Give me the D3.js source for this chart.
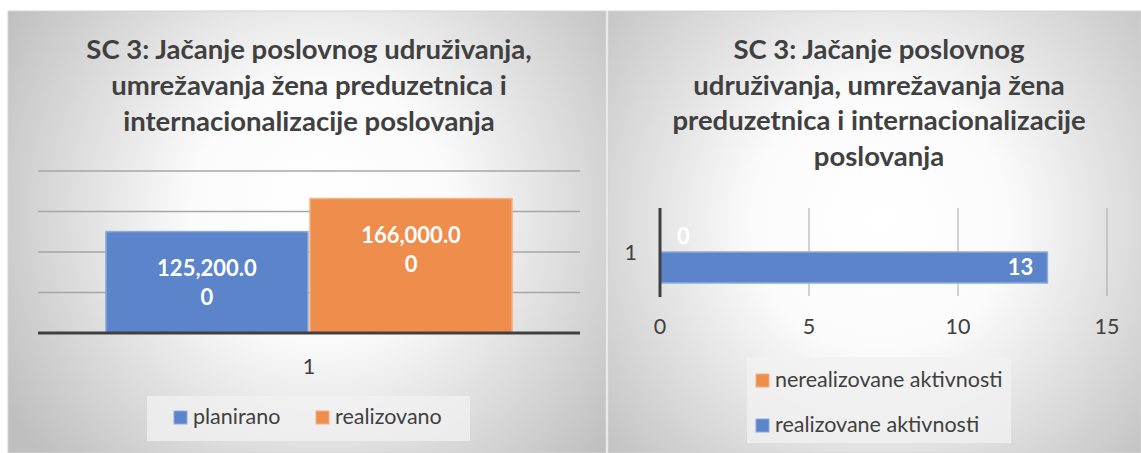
<!DOCTYPE html>
<html>
<head>
<meta charset="utf-8">
<script src="https://cdn.jsdelivr.net/npm/d3@7"></script>
<style>
  body { margin: 0; background: #fff; }
  svg text { font-family: Lato, "Open Sans", sans-serif; }
</style>
</head>
<body>
<svg id="chart" width="1141" height="453"></svg>
<script>
// left chart: column chart
const colTitle = ["SC 3: Jačanje poslovnog udruživanja,", "umrežavanja žena preduzetnica i", "internacionalizacije poslovanja"];
const colCategories = ["1"];
const colSeries = ["planirano", "realizovano"];
const colValues = [125200, 166000];
const colTicks = [0, 50000, 100000, 150000, 200000];

// right chart: horizontal bar chart
const barTitle = ["SC 3: Jačanje poslovnog", "udruživanja, umrežavanja žena", "preduzetnica i internacionalizacije", "poslovanja"];
const barCategories = ["1"];
const barSeries = ["nerealizovane aktivnosti", "realizovane aktivnosti"];
const barValues = [0, 13];
const barTicks = [0, 5, 10, 15];

const blue = "#5b84cb";
const orange = "#ef8d4c";
const colors = { "planirano": blue, "realizovano": orange,
                 "nerealizovane aktivnosti": orange, "realizovane aktivnosti": blue };
const strokes = { [blue]: "#8eaadb", [orange]: "#f4b183" };
const textColor = "#404040";

const svg = d3.select("#chart");
const defs = svg.append("defs");

function drawPanel(id, x0, x1, cx, cy) {
    const grad = defs.append("radialGradient")
        .attr("id", id)
        .attr("gradientUnits", "userSpaceOnUse")
        .attr("cx", cx).attr("cy", cy).attr("r", 370);
    grad.append("stop").attr("offset", "0%").attr("stop-color", "#ffffff");
    grad.append("stop").attr("offset", "35%").attr("stop-color", "#fbfbfb");
    grad.append("stop").attr("offset", "100%").attr("stop-color", "#bfbfbf");
    svg.append("rect")
        .attr("x", x0).attr("y", 11)
        .attr("width", x1 - x0).attr("height", 453 - 11)
        .attr("fill", `url(#${id})`)
        .attr("stroke", "#d4d4d4")
        .attr("stroke-width", 1);
}

function drawTitle(lines, cx, y0, step) {
    svg.append("g").selectAll("text")
        .data(lines)
        .enter()
        .append("text")
        .attr("x", cx)
        .attr("y", (d, i) => y0 + i * step)
        .attr("text-anchor", "middle")
        .style("font-size", "27.5px")
        .style("font-weight", "bold")
        .style("fill", textColor)
        .text(d => d);
}

function drawColumnChart() {
    drawPanel("bgLeft", 8, 606, 320, 210);
    drawTitle(colTitle, 309, 59, 36);

    const y = d3.scaleLinear().domain([0, 200000]).range([333, 171]);
    const x = d3.scaleBand().domain(colCategories).range([38, 580])
        .paddingInner(0).paddingOuter(0.164);
    const xs = d3.scaleBand().domain(colSeries).range([0, x.bandwidth()]);

    // gridlines
    svg.append("g").selectAll("line")
        .data(colTicks.slice(1))
        .enter()
        .append("line")
        .attr("x1", 38).attr("x2", 580)
        .attr("y1", d => y(d)).attr("y2", d => y(d))
        .style("stroke", "#a6a6a6")
        .style("stroke-width", 1.3);

    const g = svg.append("g");
    g.selectAll("rect")
        .data(colSeries.map((s, i) => ({ series: s, cat: colCategories[0], value: colValues[i] })))
        .enter()
        .append("rect")
        .attr("x", d => x(d.cat) + xs(d.series) + 1)
        .attr("width", xs.bandwidth() - 2)
        .attr("y", d => y(d.value))
        .attr("height", d => y(0) - y(d.value))
        .style("fill", d => colors[d.series])
        .style("stroke", d => strokes[colors[d.series]])
        .style("stroke-width", 1.5);

    // value labels, wrapped like the original ("125,200.0" / "0")
    const fmt = d3.format(",.2f");
    colSeries.forEach((s, i) => {
        const str = fmt(colValues[i]);
        const parts = [str.slice(0, -1), str.slice(-1)];
        svg.append("g").selectAll("text")
            .data(parts)
            .enter()
            .append("text")
            .attr("x", x(colCategories[0]) + xs(s) + xs.bandwidth() / 2)
            .attr("y", (d, j) => y(colValues[i]) + 44 + j * 29)
            .attr("text-anchor", "middle")
            .style("font-size", "22px")
            .style("font-weight", "bold")
            .style("fill", "#fff")
            .text(d => d);
    });

    // axis line
    svg.append("line")
        .attr("x1", 38).attr("x2", 580)
        .attr("y1", y(0)).attr("y2", y(0))
        .style("stroke", "#404040")
        .style("stroke-width", 3);

    svg.append("g").selectAll("text")
        .data(colCategories)
        .enter()
        .append("text")
        .attr("x", d => x(d) + x.bandwidth() / 2)
        .attr("y", 374)
        .attr("text-anchor", "middle")
        .style("font-size", "21.5px")
        .style("fill", textColor)
        .text(d => d);

    // legend
    svg.append("rect")
        .attr("x", 147).attr("y", 396)
        .attr("width", 323).attr("height", 45)
        .style("fill", "#f2f2f2")
        .style("fill-opacity", 0.75);
    const legendX = [174, 316];
    const items = svg.append("g").selectAll("g")
        .data(colSeries)
        .enter()
        .append("g")
        .attr("transform", (d, i) => `translate(${legendX[i]},411)`);
    items.append("rect")
        .attr("width", 13).attr("height", 13)
        .style("fill", d => colors[d])
        .style("stroke", d => strokes[colors[d]]);
    items.append("text")
        .attr("x", 19).attr("y", 13)
        .style("font-size", "21.5px")
        .style("fill", textColor)
        .text(d => d);
}

function drawBarChart() {
    drawPanel("bgRight", 608, 1141, 880, 220);
    drawTitle(barTitle, 879, 59, 35.5);

    const x = d3.scaleLinear().domain([0, 15]).range([660, 1107]);
    const y = d3.scaleBand().domain(barCategories).range([208, 296])
        .paddingInner(0).paddingOuter(0.21);
    const ys = d3.scaleBand().domain(barSeries).range([0, y.bandwidth()]);

    // vertical gridlines
    svg.append("g").selectAll("line")
        .data(barTicks.slice(1))
        .enter()
        .append("line")
        .attr("x1", d => x(d)).attr("x2", d => x(d))
        .attr("y1", 208).attr("y2", 296)
        .style("stroke", "#a6a6a6")
        .style("stroke-width", 1);

    const data = barSeries.map((s, i) => ({ series: s, cat: barCategories[0], value: barValues[i] }));
    svg.append("g").selectAll("rect")
        .data(data.filter(d => d.value > 0))
        .enter()
        .append("rect")
        .attr("x", x(0))
        .attr("y", d => y(d.cat) + ys(d.series))
        .attr("width", d => x(d.value) - x(0))
        .attr("height", ys.bandwidth())
        .style("fill", d => colors[d.series])
        .style("stroke", d => strokes[colors[d.series]])
        .style("stroke-width", 1.5);

    svg.append("g").selectAll("text")
        .data(data)
        .enter()
        .append("text")
        .attr("x", d => d.value > 1 ? x(d.value) - 14 : x(d.value) + 17)
        .attr("y", d => y(d.cat) + ys(d.series) + ys.bandwidth() / 2)
        .attr("dy", "0.36em")
        .attr("text-anchor", d => d.value > 1 ? "end" : "start")
        .style("font-size", "22px")
        .style("font-weight", "bold")
        .style("fill", "#fff")
        .text(d => d.value);

    // axis line
    svg.append("line")
        .attr("x1", x(0)).attr("x2", x(0))
        .attr("y1", 208).attr("y2", 297)
        .style("stroke", "#404040")
        .style("stroke-width", 3);

    svg.append("g").selectAll("text")
        .data(barTicks)
        .enter()
        .append("text")
        .attr("x", d => x(d))
        .attr("y", 334)
        .attr("text-anchor", "middle")
        .style("font-size", "21.5px")
        .style("fill", textColor)
        .text(d => d);

    svg.append("g").selectAll("text")
        .data(barCategories)
        .enter()
        .append("text")
        .attr("x", 637)
        .attr("y", d => y(d) + y.bandwidth() / 2)
        .attr("dy", "0.36em")
        .attr("text-anchor", "end")
        .style("font-size", "21.5px")
        .style("fill", textColor)
        .text(d => d);

    // legend
    svg.append("rect")
        .attr("x", 747).attr("y", 357)
        .attr("width", 264).attr("height", 86)
        .style("fill", "#f2f2f2")
        .style("fill-opacity", 0.75);
    const items = svg.append("g").selectAll("g")
        .data(barSeries)
        .enter()
        .append("g")
        .attr("transform", (d, i) => `translate(756,${374 + i * 45})`);
    items.append("rect")
        .attr("width", 13).attr("height", 13)
        .style("fill", d => colors[d])
        .style("stroke", d => strokes[colors[d]]);
    items.append("text")
        .attr("x", 19).attr("y", 13)
        .style("font-size", "21.5px")
        .style("fill", textColor)
        .text(d => d);
}

drawColumnChart();
drawBarChart();
</script>
</body>
</html>
